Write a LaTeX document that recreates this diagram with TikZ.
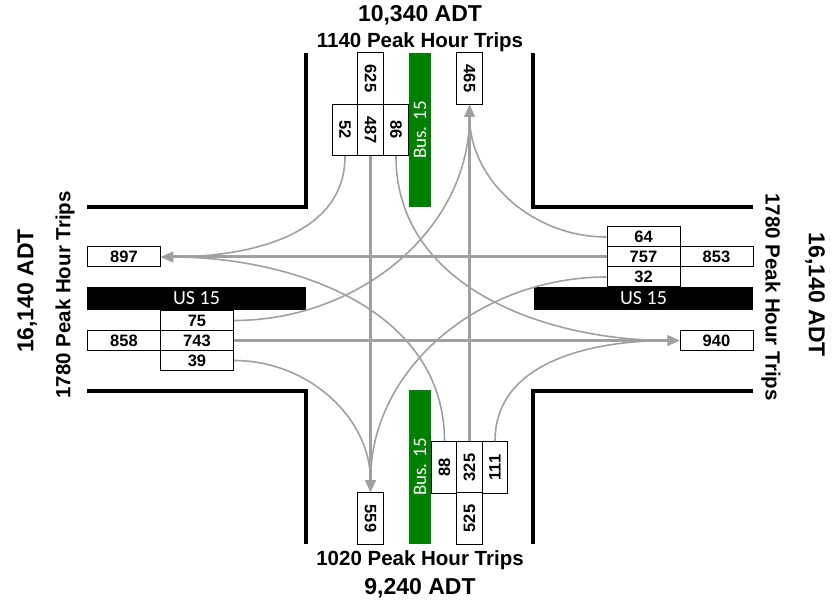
\documentclass[tikz,border=0pt]{standalone}
\usepackage{fontspec}
\setmainfont{Liberation Sans}
\newfontfamily\signfont{Carlito}
\usepackage{graphicx}
\usetikzlibrary{arrows.meta}
\definecolor{flowgray}{RGB}{160,160,160}
\definecolor{busgreen}{RGB}{0,128,0}
\newcommand{\vol}{\fontsize{16.5}{16.5}\selectfont\bfseries}

\begin{document}
\begin{tikzpicture}[x=1pt,y=1pt,>={Triangle[length=12pt,width=10pt]},
  curb/.style={line width=4pt},
  vbox/.style={draw,fill=white,line width=1pt,inner sep=0pt,minimum width=25.5pt,minimum height=51.5pt,font=\vol},
  hbox/.style={draw,fill=white,line width=1pt,inner sep=0pt,minimum width=73pt,minimum height=20pt,font=\vol},
  usbar/.style={fill=black,text=white,inner sep=0pt,minimum width=219pt,minimum height=23pt,font=\signfont\fontsize{20}{20}\selectfont},
  busbar/.style={fill=busgreen,text=white,inner sep=0pt,minimum width=22pt,minimum height=154pt,font=\signfont\fontsize{19}{19}\selectfont},
  thru/.style={->,flowgray,line width=3pt},
  turn/.style={->,flowgray,line width=1.6pt},
  adt/.style={font=\fontsize{23}{23}\selectfont\bfseries},
  peak/.style={font=\fontsize{20.5}{20.5}\selectfont\bfseries}]
  \useasboundingbox (0,0) rectangle (835,604);
  % curbs
  \draw[curb] (87,397) -- (306,397) -- (306,551);
  \draw[curb] (533,551) -- (533,397) -- (753,397);
  \draw[curb] (87,213) -- (306,213) -- (306,60);
  \draw[curb] (533,60) -- (533,213) -- (753,213);
  % medians
  \node[usbar] (usw) at (196.5,305.5) {US 15};
  \node[usbar] (use) at (643.5,305.5) {US 15};
  \node[busbar] (busn) at (420,474) {\rotatebox{90}{Bus. 15}};
  \node[busbar] (buss) at (420,137) {\rotatebox{90}{Bus. 15}};
  % north leg
  \node[vbox] (nin) at (370.5,525.5) {\rotatebox{-90}{625}};
  \node[vbox] (nR) at (345,474) {\rotatebox{-90}{52}};
  \node[vbox] (nT) at (370.5,474) {\rotatebox{-90}{487}};
  \node[vbox] (nL) at (396,474) {\rotatebox{-90}{86}};
  \node[vbox] (nout) at (469.5,525.5) {\rotatebox{-90}{465}};
  % south leg
  \node[vbox] (sL) at (444.5,136.5) {\rotatebox{90}{88}};
  \node[vbox] (sT) at (469.5,136.5) {\rotatebox{90}{325}};
  \node[vbox] (sR) at (495,136.5) {\rotatebox{90}{111}};
  \node[vbox] (sin) at (469.5,85.5) {\rotatebox{90}{525}};
  \node[vbox] (sout) at (370.5,85.5) {\rotatebox{-90}{559}};
  % west leg
  \node[hbox] (wout) at (124,347) {897};
  \node[hbox] (wL) at (197,283.5) {75};
  \node[hbox] (win) at (124,263.5) {858};
  \node[hbox] (wT) at (197,263.5) {743};
  \node[hbox] (wR) at (197,243.5) {39};
  % east leg
  \node[hbox] (eR) at (643.5,367) {64};
  \node[hbox] (eT) at (643.5,347) {757};
  \node[hbox] (ein) at (716.5,347) {853};
  \node[hbox] (eL) at (643.5,327) {32};
  \node[hbox] (eout) at (716.5,263.5) {940};
  % movements
  \draw[thru] (nT.south) -- (sout.north);
  \draw[thru] (sT.north) -- (nout.south);
  \draw[thru] (wT.east) -- (eout.west);
  \draw[thru] (eT.west) -- (wout.east);
  \draw[turn] (nR.south) to[out=-90,in=0] (wout.east);
  \draw[turn] (nL.south) to[out=-90,in=180] (eout.west);
  \draw[turn] (sL.north) to[out=90,in=0] (wout.east);
  \draw[turn] (sR.north) to[out=90,in=180] (eout.west);
  \draw[turn] (wL.east) to[out=0,in=-90] (nout.south);
  \draw[turn] (wR.east) to[out=0,in=90] (sout.north);
  \draw[turn] (eR.west) to[out=180,in=-90] (nout.south);
  \draw[turn] (eL.west) to[out=180,in=90] (sout.north);
  % volumes
  \node[adt] (adtn) at (420,589) {10,340 ADT};
  \node[peak] (peakn) at (420,562) {1140 Peak Hour Trips};
  \node[peak] (peaks) at (420,44) {1020 Peak Hour Trips};
  \node[adt] (adts) at (420,16) {9,240 ADT};
  \node[adt,rotate=90] (adtw) at (27,313) {16,140 ADT};
  \node[peak,rotate=90] (peakw) at (65,309) {1780 Peak Hour Trips};
  \node[peak,rotate=-90] (peake) at (771,307) {1780 Peak Hour Trips};
  \node[adt,rotate=-90] (adte) at (815,309) {16,140 ADT};
\end{tikzpicture}
\end{document}
